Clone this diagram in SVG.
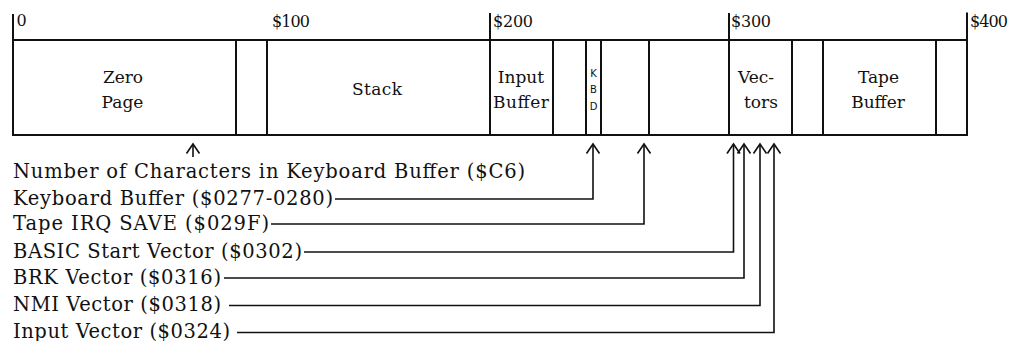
<svg xmlns="http://www.w3.org/2000/svg" width="1013" height="341" viewBox="0 0 1013 341">
<style>
  .seg { fill: none; stroke: #111; stroke-width: 2; }
  .tick { stroke: #111; stroke-width: 2; }
  .lbl { font-family: "DejaVu Serif", "Liberation Serif", serif; fill: #111; }
  .addr { font-size: 16px; }
  .box { font-size: 17px; text-anchor: middle; }
  .kbd { font-family: "DejaVu Sans", "Liberation Sans", sans-serif; font-size: 10px; fill: #111; text-anchor: middle; }
  .note { font-size: 19.5px; }
  .conn { fill: none; stroke: #111; stroke-width: 1.6; }
</style>
<defs>
  <marker id="chev" markerUnits="userSpaceOnUse" viewBox="-11 -8 13 16" markerWidth="13" markerHeight="16" refX="0" refY="0" orient="auto">
    <path d="M-9.5,-6.5 L0,0 L-9.5,6.5" fill="none" stroke="#111" stroke-width="1.6"/>
  </marker>
</defs>
<rect width="1013" height="341" fill="#fff"/>

<g id="scale">
  <line class="tick" x1="13" y1="14" x2="13" y2="41"/>
  <line class="tick" x1="490" y1="13" x2="490" y2="41"/>
  <line class="tick" x1="729" y1="13" x2="729" y2="41"/>
  <line class="tick" x1="967" y1="12.5" x2="967" y2="41"/>
  <text class="lbl addr" x="16.5" y="26">0</text>
  <text class="lbl addr" x="272" y="26.5" textLength="38">$100</text>
  <text class="lbl addr" x="493" y="26.5" textLength="40">$200</text>
  <text class="lbl addr" x="731" y="26.5" textLength="40">$300</text>
  <text class="lbl addr" x="970" y="26.5" textLength="38">$400</text>
</g>

<g id="zero-page">
  <rect class="seg" x="13" y="40" width="223" height="95"/>
  <text class="lbl box" x="123" y="82.5">Zero</text>
  <text class="lbl box" x="122.5" y="107.5">Page</text>
</g>
<g id="seg-0200">
  <rect class="seg" x="236" y="40" width="31" height="95"/>
</g>
<g id="stack">
  <rect class="seg" x="267" y="40" width="223" height="95"/>
  <text class="lbl box" x="377" y="95" textLength="50">Stack</text>
</g>
<g id="input-buffer">
  <rect class="seg" x="490" y="40" width="63" height="95"/>
  <text class="lbl box" x="521" y="82.5">Input</text>
  <text class="lbl box" x="521" y="108" textLength="56">Buffer</text>
</g>
<g id="seg-0259">
  <rect class="seg" x="553" y="40" width="33" height="95"/>
</g>
<g id="kbd">
  <rect class="seg" x="586" y="40" width="15" height="95"/>
  <text class="kbd" x="593.5" y="76.5">K</text>
  <text class="kbd" x="593.5" y="93">B</text>
  <text class="kbd" x="593.5" y="109.5">D</text>
</g>
<g id="seg-0281">
  <rect class="seg" x="601" y="40" width="48" height="95"/>
</g>
<g id="seg-02a0">
  <rect class="seg" x="649" y="40" width="80" height="95"/>
</g>
<g id="vectors">
  <rect class="seg" x="729" y="40" width="63" height="95"/>
  <text class="lbl box" x="756" y="82.5">Vec-</text>
  <text class="lbl box" x="761" y="108">tors</text>
</g>
<g id="seg-0334">
  <rect class="seg" x="792" y="40" width="31" height="95"/>
</g>
<g id="tape-buffer">
  <rect class="seg" x="823" y="40" width="113" height="95"/>
  <text class="lbl box" x="878.5" y="82.5">Tape</text>
  <text class="lbl box" x="878" y="108">Buffer</text>
</g>
<g id="seg-03fc">
  <rect class="seg" x="936" y="40" width="31" height="95"/>
</g>

<g id="labels">
  <text class="lbl note" x="13" y="178" textLength="512">Number of Characters in Keyboard Buffer ($C6)</text>
  <text class="lbl note" x="13" y="204.5" textLength="320">Keyboard Buffer ($0277-0280)</text>
  <text class="lbl note" x="13" y="229.5" textLength="256">Tape IRQ SAVE ($029F)</text>
  <text class="lbl note" x="13" y="257.5" textLength="289">BASIC Start Vector ($0302)</text>
  <text class="lbl note" x="13" y="283.5" textLength="208">BRK Vector ($0316)</text>
  <text class="lbl note" x="13" y="311" textLength="208">NMI Vector ($0318)</text>
  <text class="lbl note" x="13" y="338" textLength="217">Input Vector ($0324)</text>
</g>

<g id="connectors">
  <path class="conn" d="M193,157 V144" marker-end="url(#chev)"/>
  <path class="conn" d="M335,199 H593 V144" marker-end="url(#chev)"/>
  <path class="conn" d="M271,224 H644 V144" marker-end="url(#chev)"/>
  <path class="conn" d="M304,252 H733.5 V144" marker-end="url(#chev)"/>
  <path class="conn" d="M224,278 H744 V144" marker-end="url(#chev)"/>
  <path class="conn" d="M229,305.5 H760 V144" marker-end="url(#chev)"/>
  <path class="conn" d="M237,332.5 H774 V144" marker-end="url(#chev)"/>
</g>
</svg>
